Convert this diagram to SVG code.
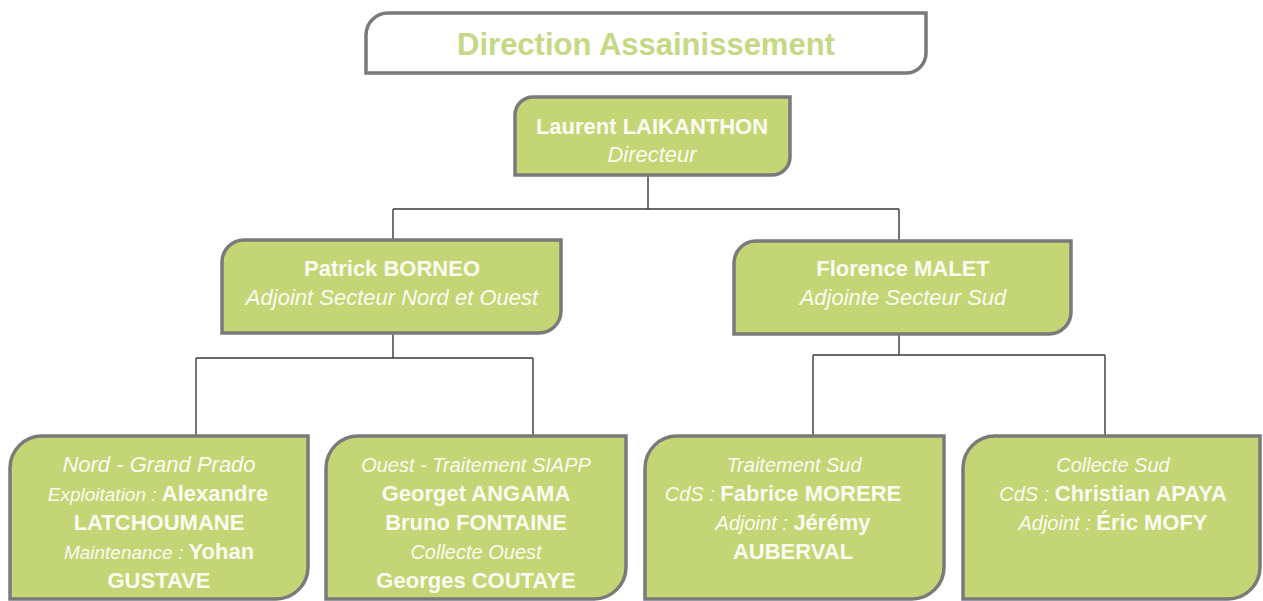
<svg xmlns="http://www.w3.org/2000/svg" width="1263" height="601" viewBox="0 0 1263 601">
<style>
.box{fill:#c3d574;stroke:#7a7a7a;stroke-width:3.5}
.title{fill:#ffffff;stroke:#7a7a7a;stroke-width:3.5}
.t{font-family:"Liberation Sans",Arial,sans-serif;fill:#fbfbf2;text-anchor:middle}
.b{font-weight:bold;font-size:22px}
.i{font-style:italic;font-size:22px}
.s{font-style:italic;font-size:20px}
.e{font-style:italic;font-size:19px}
.conn{fill:none;stroke:#3a3a3a;stroke-width:1.4}
</style>
<rect width="1263" height="601" fill="#ffffff"/>
<g id="title">
<path class="title" d="M388,13 H926 V53 A20,20 0 0 1 906,73 H366 V35 A22,22 0 0 1 388,13 Z"/>
<text class="t" x="646" y="55" style="font-weight:bold;font-size:31px;fill:#c5d883">Direction Assainissement</text>
</g>
<g id="connectors">
<path class="conn" d="M648,175 V209 M393,209 H899 M393,209 V240 M899,209 V240"/>
<path class="conn" d="M393,333 V358 M196,358 H533 M196,358 V436 M533,358 V436"/>
<path class="conn" d="M899,333 V355 M813,355 H1105 M813,355 V436 M1105,355 V436"/>
</g>
<g id="director">
<path class="box" d="M533,97 H790 V157 A18,18 0 0 1 772,175 H515 V115 A18,18 0 0 1 533,97 Z"/>
<text class="t b" x="652" y="134">Laurent LAIKANTHON</text>
<text class="t i" x="652" y="162">Directeur</text>
</g>
<g id="borneo">
<path class="box" d="M244,240 H561 V311 A22,22 0 0 1 539,333 H222 V262 A22,22 0 0 1 244,240 Z"/>
<text class="t b" x="392" y="276">Patrick BORNEO</text>
<text class="t i" x="392" y="305">Adjoint Secteur Nord et Ouest</text>
</g>
<g id="malet">
<path class="box" d="M756,241 H1071 V312 A22,22 0 0 1 1049,334 H734 V263 A22,22 0 0 1 756,241 Z"/>
<text class="t b" x="903" y="276">Florence MALET</text>
<text class="t i" x="903" y="305">Adjointe Secteur Sud</text>
</g>
<g id="nord">
<path class="box" d="M42,436 H308 V567 A32,32 0 0 1 276,599 H10 V468 A32,32 0 0 1 42,436 Z"/>
<text class="t i" x="159" y="472">Nord - Grand Prado</text>
<text class="t" x="158" y="501"><tspan class="e">Exploitation : </tspan><tspan class="b">Alexandre</tspan></text>
<text class="t b" x="159" y="530">LATCHOUMANE</text>
<text class="t" x="159" y="559"><tspan class="e">Maintenance : </tspan><tspan class="b">Yohan</tspan></text>
<text class="t b" x="159" y="588">GUSTAVE</text>
</g>
<g id="ouest">
<path class="box" d="M358,436 H626 V567 A32,32 0 0 1 594,599 H326 V468 A32,32 0 0 1 358,436 Z"/>
<text class="t s" x="476" y="472">Ouest - Traitement SIAPP</text>
<text class="t b" x="476" y="501">Georget ANGAMA</text>
<text class="t b" x="476" y="530">Bruno FONTAINE</text>
<text class="t s" x="476" y="559">Collecte Ouest</text>
<text class="t b" x="476" y="588">Georges COUTAYE</text>
</g>
<g id="traitement-sud">
<path class="box" d="M677,436 H944 V567 A32,32 0 0 1 912,599 H645 V468 A32,32 0 0 1 677,436 Z"/>
<text class="t s" x="794" y="472">Traitement Sud</text>
<text class="t" x="783" y="501"><tspan class="s">CdS : </tspan><tspan class="b">Fabrice MORERE</tspan></text>
<text class="t" x="793" y="530"><tspan class="s">Adjoint : </tspan><tspan class="b">Jérémy</tspan></text>
<text class="t b" x="793" y="559">AUBERVAL</text>
</g>
<g id="collecte-sud">
<path class="box" d="M995,436 H1260 V567 A32,32 0 0 1 1228,599 H963 V468 A32,32 0 0 1 995,436 Z"/>
<text class="t s" x="1113" y="472">Collecte Sud</text>
<text class="t" x="1113" y="501"><tspan class="s">CdS : </tspan><tspan class="b">Christian APAYA</tspan></text>
<text class="t" x="1113" y="530"><tspan class="s">Adjoint : </tspan><tspan class="b">Éric MOFY</tspan></text>
</g>
</svg>
